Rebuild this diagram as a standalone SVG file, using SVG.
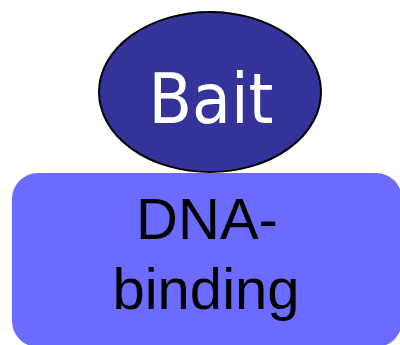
<svg xmlns="http://www.w3.org/2000/svg" width="400" height="345" viewBox="0 0 400 345">
<style>
.bait{fill:#333399;stroke:#000;stroke-width:2}
.dbd{fill:#6b6bff}
.t1{font-family:"Comic Sans MS","DejaVu Sans",sans-serif;fill:#fff;font-size:70px}
.t2{font-family:"Liberation Sans",Arial,sans-serif;fill:#000;font-size:58px}
</style>
<g id="connectors"></g>
<g id="bait">
<ellipse class="bait" cx="210" cy="92" rx="111" ry="80"/>
<text class="t1" x="211" y="123" text-anchor="middle" textLength="125" lengthAdjust="spacingAndGlyphs">Bait</text>
</g>
<g id="dna-binding">
<rect class="dbd" x="12" y="173" width="390" height="174" rx="26"/>
<text class="t2" x="207" y="239" text-anchor="middle">DNA-</text>
<text class="t2" x="206" y="309" text-anchor="middle">binding</text>
</g>
</svg>
